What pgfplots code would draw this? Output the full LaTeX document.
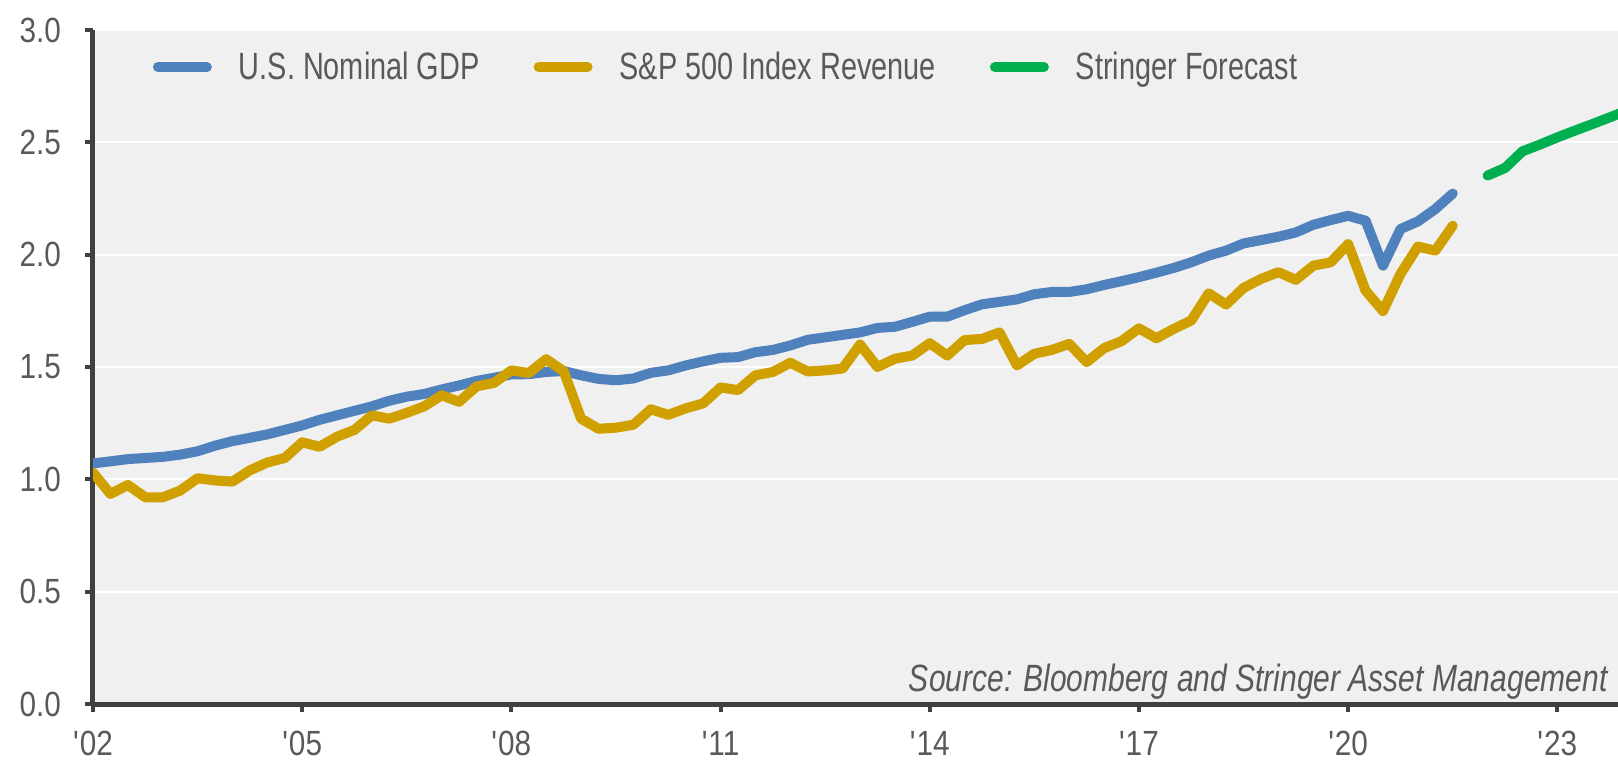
\documentclass[border=0pt]{standalone}
\usepackage{fontspec}
\setmainfont{Liberation Sans}[FakeStretch=0.76]
\newfontfamily\tickfont{Liberation Sans}[FakeStretch=0.85]
\newfontfamily\srcfont{Liberation Sans}[FakeStretch=0.79]
\usepackage{pgfplots}
\usepackage{pgfplotstable}
\pgfplotsset{compat=1.18}
\definecolor{gdp}{HTML}{4F81BD}
\definecolor{rev}{HTML}{CFA000}
\definecolor{fc}{HTML}{00B050}
\definecolor{bg}{HTML}{F0F0F0}
\definecolor{axc}{HTML}{404040}
\definecolor{txt}{HTML}{595959}

% quarter index (0 = Q1 2002) and value
\pgfplotstableread{
q y
0 1.071
1 1.080
2 1.090
3 1.095
4 1.100
5 1.110
6 1.125
7 1.150
8 1.170
9 1.185
10 1.200
11 1.220
12 1.240
13 1.265
14 1.285
15 1.305
16 1.325
17 1.350
18 1.368
19 1.380
20 1.400
21 1.418
22 1.438
23 1.452
24 1.467
25 1.468
26 1.478
27 1.482
28 1.463
29 1.447
30 1.441
31 1.449
32 1.474
33 1.485
34 1.507
35 1.525
36 1.541
37 1.544
38 1.566
39 1.576
40 1.596
41 1.621
42 1.632
43 1.643
44 1.654
45 1.674
46 1.679
47 1.701
48 1.724
49 1.724
50 1.753
51 1.779
52 1.790
53 1.801
54 1.824
55 1.834
56 1.834
57 1.846
58 1.865
59 1.882
60 1.900
61 1.920
62 1.941
63 1.966
64 1.996
65 2.018
66 2.050
67 2.065
68 2.080
69 2.099
70 2.133
71 2.154
72 2.173
73 2.151
74 1.951
75 2.114
76 2.148
77 2.203
78 2.272
}\gdp

\pgfplotstableread{
q y
0 1.030
1 0.935
2 0.975
3 0.920
4 0.920
5 0.950
6 1.005
7 0.995
8 0.990
9 1.040
10 1.075
11 1.095
12 1.165
13 1.145
14 1.190
15 1.220
16 1.285
17 1.270
18 1.296
19 1.325
20 1.374
21 1.345
22 1.414
23 1.429
24 1.485
25 1.473
26 1.535
27 1.481
28 1.270
29 1.225
30 1.230
31 1.243
32 1.312
33 1.287
34 1.316
35 1.338
36 1.409
37 1.397
38 1.463
39 1.478
40 1.519
41 1.480
42 1.485
43 1.493
44 1.600
45 1.500
46 1.537
47 1.551
48 1.606
49 1.551
50 1.620
51 1.625
52 1.654
53 1.507
54 1.559
55 1.576
56 1.603
57 1.522
58 1.584
59 1.615
60 1.672
61 1.628
62 1.670
63 1.707
64 1.828
65 1.778
66 1.852
67 1.892
68 1.922
69 1.888
70 1.951
71 1.966
72 2.047
73 1.840
74 1.749
75 1.914
76 2.036
77 2.018
78 2.129
}\rev

\pgfplotstableread{
q y
80 2.352
81 2.386
82 2.460
83 2.490
84 2.522
85 2.552
86 2.581
87 2.611
88 2.641
}\fcst

\begin{document}
\begin{tikzpicture}
\begin{axis}[
  scale only axis, width=762.5pt, height=337pt,
  xmin=0, xmax=87.48, ymin=0, ymax=3,
  axis x line*=bottom, axis y line*=left,
  axis line style={line width=2.5pt, color=axc, -},
  axis background/.style={fill=bg},
  xtick={0,12,24,36,48,60,72,84},
  xticklabels={\textquotesingle02,\textquotesingle05,\textquotesingle08,\textquotesingle11,\textquotesingle14,\textquotesingle17,\textquotesingle20,\textquotesingle23},
  ytick={0,0.5,1,1.5,2,2.5,3},
  /pgf/number format/fixed, /pgf/number format/fixed zerofill,
  /pgf/number format/precision=1, /pgf/number format/assume math mode=true,
  ticklabel style={font=\tickfont\fontsize{17.5}{17.5}\selectfont, text=txt},
  yticklabel style={xshift=-8.5pt},
  xticklabel style={yshift=-6pt},
  tick align=outside, major tick length=4pt,
  tick style={line width=2pt, color=axc},
  ymajorgrids, major grid style={white, line width=1pt},
  clip=true,
  legend columns=3,
  legend style={draw=none, fill=none, inner sep=0pt,
    at={(axis description cs:0.039,0.945)}, anchor=west,
    font=\fontsize{19}{19}\selectfont, text=txt,
    /tikz/every odd column/.append style={column sep=11.5pt},
    /tikz/every even column/.append style={column sep=25pt}},
  legend image code/.code={\draw[#1, line width=5pt, line cap=round] (2.5pt,0pt) -- (27pt,0pt);},
  every axis plot/.append style={line width=5pt, line join=round, line cap=round},
]
\addplot[color=gdp] table[x=q,y=y] {\gdp};
\addlegendentry{U.S. Nominal GDP}
\addplot[color=rev] table[x=q,y=y] {\rev};
\addlegendentry{S\&P 500 Index Revenue}
\addplot[color=fc] table[x=q,y=y] {\fcst};
\addlegendentry{Stringer Forecast}
\node[anchor=base east, inner sep=0pt, font=\srcfont\itshape\fontsize{19}{19}\selectfont, text=txt, xshift=-5pt, yshift=6.5pt] at (rel axis cs:1,0) {Source: Bloomberg and Stringer Asset Management};
\end{axis}
\pgfresetboundingbox
\useasboundingbox (-46.5pt,-31.5pt) rectangle (762.5pt,352pt);
\end{tikzpicture}
\end{document}
